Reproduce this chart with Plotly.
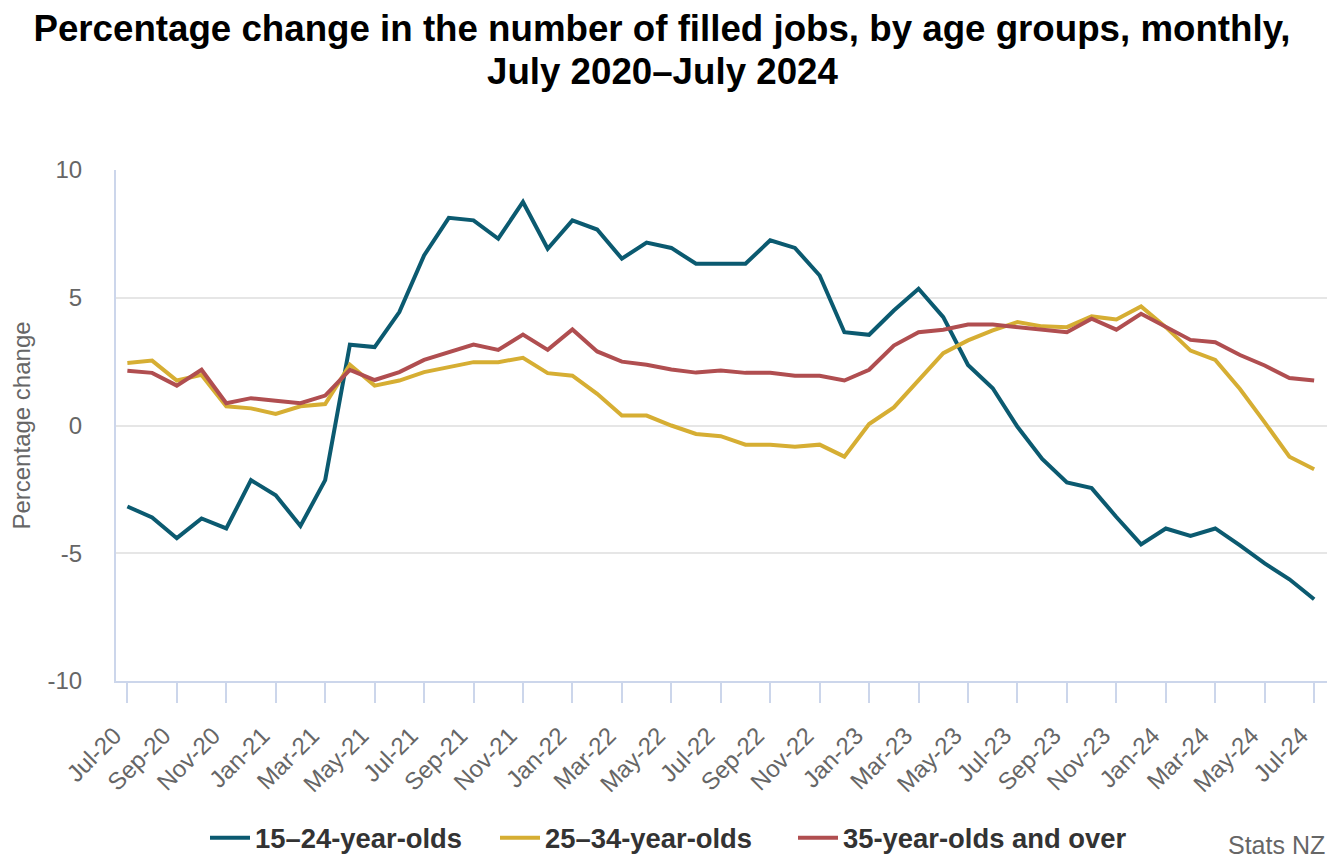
import plotly.graph_objects as go

months = ["Jul-20","Aug-20","Sep-20","Oct-20","Nov-20","Dec-20",
          "Jan-21","Feb-21","Mar-21","Apr-21","May-21","Jun-21","Jul-21","Aug-21","Sep-21","Oct-21","Nov-21","Dec-21",
          "Jan-22","Feb-22","Mar-22","Apr-22","May-22","Jun-22","Jul-22","Aug-22","Sep-22","Oct-22","Nov-22","Dec-22",
          "Jan-23","Feb-23","Mar-23","Apr-23","May-23","Jun-23","Jul-23","Aug-23","Sep-23","Oct-23","Nov-23","Dec-23",
          "Jan-24","Feb-24","Mar-24","Apr-24","May-24","Jun-24","Jul-24"]

age_15_24 = [-3.17,-3.6,-4.41,-3.64,-4.03,-2.14,-2.73,-3.93,-2.14,3.16,3.07,4.44,6.66,8.13,8.03,7.31,8.75,6.92,
             8.03,7.67,6.53,7.16,6.95,6.33,6.33,6.33,7.25,6.95,5.87,3.65,3.55,4.5,5.35,4.24,2.37,1.46,-0.05,
             -1.31,-2.23,-2.45,-3.58,-4.65,-4.03,-4.32,-4.03,-4.69,-5.4,-6.02,-6.8]
age_25_34 = [2.45,2.54,1.76,1.98,0.75,0.67,0.45,0.75,0.84,2.38,1.56,1.76,2.09,2.28,2.48,2.48,2.65,2.05,
             1.95,1.24,0.39,0.39,0.0,-0.33,-0.42,-0.75,-0.75,-0.83,-0.75,-1.22,0.06,0.71,1.76,2.83,3.33,3.72,
             4.05,3.88,3.85,4.27,4.15,4.66,3.85,2.93,2.57,1.43,0.12,-1.22,-1.71]
age_35_plus = [2.14,2.06,1.56,2.18,0.87,1.07,0.97,0.87,1.17,2.18,1.78,2.09,2.57,2.88,3.17,2.96,3.56,2.96,
               3.76,2.90,2.50,2.38,2.19,2.07,2.15,2.06,2.06,1.95,1.95,1.76,2.18,3.13,3.65,3.75,3.95,3.95,
               3.85,3.78,3.65,4.18,3.75,4.37,3.88,3.35,3.26,2.76,2.35,1.86,1.76]

series_names = ["15–24-year-olds", "25–34-year-olds", "35-year-olds and over"]
series_colors = ["#0b5a70", "#d6ae33", "#b04e50"]
series_values = [age_15_24, age_25_34, age_35_plus]

y_ticks = [-10, -5, 0, 5, 10]
y_ticktext = ["-10", "-5", "0", "5", "10"]
x_tickvals = months[::2]

title_line1 = "Percentage change in the number of filled jobs, by age groups, monthly,"
title_line2 = "July 2020–July 2024"

FONT = "Liberation Sans, Arial, sans-serif"

# the page places the figure 8px in from the top-left corner
OFF = 8
W, H = 1339 - OFF, 864 - OFF
PL, PR, PT, PB = 116, 1327, 170, 681          # plot area in page pixels
PW, PH = PR - PL, PB - PT

def px_x(x):  # page x -> paper x
    return (x - PL) / PW

def px_y(y):  # page y -> paper y
    return (PB - y) / PH

legend_names = ["legend", "legend2", "legend3"]
legend_left = [205, 495, 793]

fig = go.Figure()
for name, color, vals, lg in zip(series_names, series_colors, series_values, legend_names):
    fig.add_trace(go.Scatter(x=months, y=vals, mode="lines", name=name, legend=lg,
                             line=dict(color=color, width=4)))

legend_style = dict(orientation="h", xanchor="left", yanchor="middle", y=px_y(838),
                    font=dict(family=FONT, size=27.4, color="#333333", weight="bold"),
                    itemwidth=40, bgcolor="rgba(0,0,0,0)")

fig.update_layout(
    width=W, height=H,
    paper_bgcolor="white", plot_bgcolor="white",
    margin=dict(l=PL - OFF, r=W + OFF - PR, t=PT - OFF, b=H + OFF - PB, autoexpand=False),
    font=dict(family=FONT, color="#666666"),
    title=dict(
        text=title_line1,
        x=(662 - OFF) / W, xref="container", xanchor="center",
        y=1 - (28 - OFF) / H, yref="container", yanchor="middle",
        font=dict(family=FONT, size=36.7, color="#000000", weight="bold"),
    ),
    showlegend=True,
    legend=dict(x=px_x(legend_left[0]), **legend_style),
    legend2=dict(x=px_x(legend_left[1]), **legend_style),
    legend3=dict(x=px_x(legend_left[2]), **legend_style),
)

fig.add_annotation(text=title_line2, xref="paper", yref="paper",
                   x=px_x(662), y=px_y(72),
                   xanchor="center", yanchor="middle", showarrow=False,
                   font=dict(family=FONT, size=36.7, color="#000000", weight="bold"))

fig.update_xaxes(
    type="category", range=[-0.46, 48.52], automargin=False,
    tickmode="array", tickvals=x_tickvals, ticktext=x_tickvals,
    tickangle=-45, tickfont=dict(size=24, color="#666666"),
    ticks="outside", ticklen=20, tickwidth=2, tickcolor="#ccd6eb",
    ticklabelstandoff=9, ticklabelshift=-13,
    showline=True, linecolor="#ccd6eb", linewidth=2,
    showgrid=False, zeroline=False,
)
fig.update_yaxes(
    range=[-10, 10], automargin=False,
    tickmode="array", tickvals=y_ticks, ticktext=y_ticktext,
    tickfont=dict(size=24, color="#666666"),
    ticks="outside", ticklen=27, tickcolor="rgba(0,0,0,0)",
    showline=True, linecolor="#ccd6eb", linewidth=2,
    showgrid=True, gridcolor="#e6e6e6", gridwidth=2, zeroline=False,
    title=dict(text="Percentage change", font=dict(size=24, color="#666666"), standoff=11),
)

fig.add_annotation(text="Stats NZ", xref="paper", yref="paper", x=1.0, y=px_y(845),
                   xanchor="right", yanchor="middle", showarrow=False,
                   font=dict(family=FONT, size=25, color="#666666"))

fig.write_html("out.html")
